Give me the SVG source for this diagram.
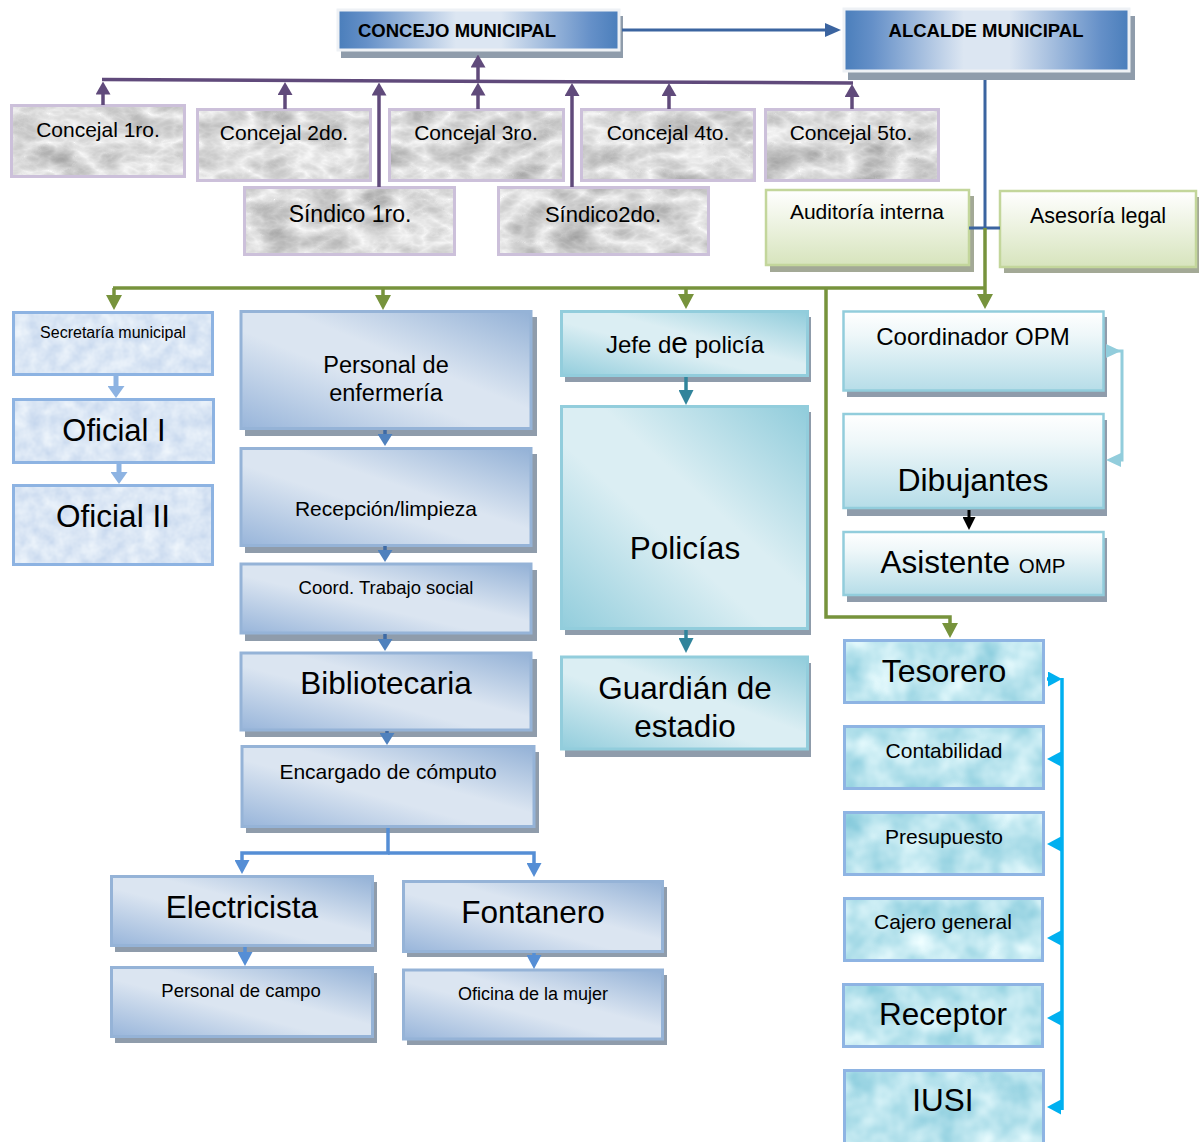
<svg xmlns="http://www.w3.org/2000/svg" width="1199" height="1142" viewBox="0 0 1199 1142">
<defs>
<style>
.t{font-family:"Liberation Sans",Arial,Helvetica,sans-serif;fill:#000;text-anchor:middle}
.bold{font-weight:bold}
.sh{fill:#8f9cab}
.shg{fill:#a3a996}
.top{fill:url(#gTop);stroke:#eef1f5;stroke-width:3}
.blue{fill:url(#gBlue);stroke:#95b3d7;stroke-width:3}
.teal{fill:url(#gTeal);stroke:#92cddc;stroke-width:3}
.opm{fill:url(#gOpm);stroke:#92cddc;stroke-width:2.5}
.green{fill:url(#gGreen);stroke:#c3d69b;stroke-width:2.5}
.marble{fill:#fff;filter:url(#fMarble)}
.marbleB{fill:none;stroke:#ccc0da;stroke-width:3}
.speck{fill:#fff;filter:url(#fSpeck)}
.speckB{fill:none;stroke:#8db3e2;stroke-width:3}
.water{fill:#fff;filter:url(#fWater)}
.waterB{fill:none;stroke:#8eb4e3;stroke-width:3}
.cPur{fill:none;stroke:#604a7b;stroke-width:3.5;marker-end:url(#mPur)}
.cPurL{fill:none;stroke:#604a7b;stroke-width:3.5}
.cDb{fill:none;stroke:#3b64a0;stroke-width:3}
.cGr{fill:none;stroke:#77933c;stroke-width:3.5}
.cGrA{fill:none;stroke:#77933c;stroke-width:3.5;marker-end:url(#mGr)}
.cMb{fill:none;stroke:#3d6aa5;stroke-width:3.5;marker-end:url(#mMb)}
.cEn{fill:none;stroke:#558ed5;stroke-width:3.5;marker-end:url(#mEn)}
.cLb{fill:none;stroke:#8db3e2;stroke-width:5;marker-end:url(#mLb)}
.cTe{fill:none;stroke:#31849b;stroke-width:3.5;marker-end:url(#mTe)}
.cBk{fill:none;stroke:#000;stroke-width:3;marker-end:url(#mBk)}
.cBr{fill:none;stroke:#92cddc;stroke-width:3;marker-start:url(#mBr);marker-end:url(#mBr)}
.cCy{fill:none;stroke:#00b0f0;stroke-width:3.5}
.cCyA{fill:none;stroke:#00b0f0;stroke-width:3.5;marker-end:url(#mCy)}
</style>
<linearGradient id="gTop" x1="0" y1="0" x2="1" y2="0">
<stop offset="0" stop-color="#4a7ebb"/><stop offset="0.1" stop-color="#6590c8"/><stop offset="0.42" stop-color="#dce6f2"/><stop offset="0.58" stop-color="#dce6f2"/><stop offset="0.9" stop-color="#6590c8"/><stop offset="1" stop-color="#4a7ebb"/>
</linearGradient>
<linearGradient id="gBlue" x1="1" y1="0" x2="0" y2="1">
<stop offset="0" stop-color="#93b1d6"/><stop offset="0.42" stop-color="#dbe5f1"/><stop offset="0.58" stop-color="#dbe5f1"/><stop offset="1" stop-color="#98b5da"/>
</linearGradient>
<linearGradient id="gTeal" x1="1" y1="0" x2="0" y2="1">
<stop offset="0" stop-color="#90ccdb"/><stop offset="0.42" stop-color="#dbeef3"/><stop offset="0.58" stop-color="#dbeef3"/><stop offset="1" stop-color="#92cddc"/>
</linearGradient>
<linearGradient id="gOpm" x1="0" y1="0" x2="0" y2="1">
<stop offset="0" stop-color="#ffffff"/><stop offset="0.3" stop-color="#eef7f9"/><stop offset="1" stop-color="#b6dde8"/>
</linearGradient>
<linearGradient id="gGreen" x1="0" y1="0" x2="0" y2="1">
<stop offset="0" stop-color="#ffffff"/><stop offset="1" stop-color="#d7e4bd"/>
</linearGradient>
<filter id="fMarble" color-interpolation-filters="sRGB">
<feTurbulence type="turbulence" baseFrequency="0.02 0.035" numOctaves="4" seed="7" result="n"/>
<feColorMatrix in="n" type="matrix" values="-0.42 0 0 0 0.98  -0.42 0 0 0 0.98  -0.42 0 0 0 0.98  0 0 0 0 1" result="g"/>
<feComposite in="g" in2="SourceGraphic" operator="in"/>
</filter>
<filter id="fSpeck" color-interpolation-filters="sRGB">
<feTurbulence type="fractalNoise" baseFrequency="0.07" numOctaves="3" seed="4" result="n"/>
<feColorMatrix in="n" type="matrix" values="0.2 0 0 0 0.76  0.15 0 0 0 0.83  0.07 0 0 0 0.925  0 0 0 0 1" result="g"/>
<feComposite in="g" in2="SourceGraphic" operator="in"/>
</filter>
<filter id="fWater" color-interpolation-filters="sRGB">
<feTurbulence type="fractalNoise" baseFrequency="0.03" numOctaves="3" seed="11" result="n"/>
<feColorMatrix in="n" type="matrix" values="0.5 0 0 0 0.48  0.25 0 0 0 0.77  0.175 0 0 0 0.845  0 0 0 0 1" result="g"/>
<feComposite in="g" in2="SourceGraphic" operator="in"/>
</filter>
<marker id="mPur" viewBox="0 0 10 10" refX="5" refY="5" markerWidth="13" markerHeight="15" markerUnits="userSpaceOnUse" orient="auto" preserveAspectRatio="none"><path d="M0,0 L10,5 L0,10 z" fill="#604a7b"/></marker>
<marker id="mDb" viewBox="0 0 10 10" refX="5" refY="5" markerWidth="16" markerHeight="14" markerUnits="userSpaceOnUse" orient="auto" preserveAspectRatio="none"><path d="M0,0 L10,5 L0,10 z" fill="#3b64a0"/></marker>
<marker id="mGr" viewBox="0 0 10 10" refX="5" refY="5" markerWidth="15" markerHeight="16" markerUnits="userSpaceOnUse" orient="auto" preserveAspectRatio="none"><path d="M0,0 L10,5 L0,10 z" fill="#77933c"/></marker>
<marker id="mMb" viewBox="0 0 10 10" refX="5" refY="5" markerWidth="12" markerHeight="15" markerUnits="userSpaceOnUse" orient="auto" preserveAspectRatio="none"><path d="M0,0 L10,5 L0,10 z" fill="#4f81bd"/></marker>
<marker id="mEn" viewBox="0 0 10 10" refX="5" refY="5" markerWidth="14" markerHeight="15" markerUnits="userSpaceOnUse" orient="auto" preserveAspectRatio="none"><path d="M0,0 L10,5 L0,10 z" fill="#558ed5"/></marker>
<marker id="mLb" viewBox="0 0 10 10" refX="5" refY="5" markerWidth="12" markerHeight="17" markerUnits="userSpaceOnUse" orient="auto" preserveAspectRatio="none"><path d="M0,0 L10,5 L0,10 z" fill="#8db3e2"/></marker>
<marker id="mTe" viewBox="0 0 10 10" refX="5" refY="5" markerWidth="15" markerHeight="15" markerUnits="userSpaceOnUse" orient="auto" preserveAspectRatio="none"><path d="M0,0 L10,5 L0,10 z" fill="#31849b"/></marker>
<marker id="mBk" viewBox="0 0 10 10" refX="5" refY="5" markerWidth="13" markerHeight="13" markerUnits="userSpaceOnUse" orient="auto" preserveAspectRatio="none"><path d="M0,0 L10,5 L0,10 z" fill="#000"/></marker>
<marker id="mBr" viewBox="0 0 10 10" refX="5" refY="5" markerWidth="15" markerHeight="14" markerUnits="userSpaceOnUse" orient="auto" preserveAspectRatio="none"><path d="M0,0 L10,5 L0,10 z" fill="#92cddc"/></marker>
<marker id="mCy" viewBox="0 0 10 10" refX="5" refY="5" markerWidth="14" markerHeight="15" markerUnits="userSpaceOnUse" orient="auto" preserveAspectRatio="none"><path d="M0,0 L10,5 L0,10 z" fill="#00b0f0"/></marker>
</defs>

<rect width="1199" height="1142" fill="#fff"/>

<!-- top -->
<g id="concejo">
<rect class="sh" x="341" y="16" width="282" height="42"/>
<rect class="top" x="338" y="10" width="281" height="40"/>
<text class="t bold" x="358" y="37" font-size="18.5" style="text-anchor:start">CONCEJO MUNICIPAL</text>
</g>
<g id="alcalde">
<rect class="sh" x="848" y="16" width="287" height="64"/>
<rect class="top" x="844" y="9" width="285" height="62"/>
<text class="t bold" x="986" y="37" font-size="18.5">ALCALDE MUNICIPAL</text>
</g>

<g id="concejal1"><rect class="marble" x="11.5" y="105.5" width="173" height="71"/><rect class="marbleB" x="11.5" y="105.5" width="173" height="71"/><text class="t" x="98" y="137" font-size="21">Concejal 1ro.</text></g>
<g id="concejal2"><rect class="marble" x="197.5" y="109.5" width="173" height="71"/><rect class="marbleB" x="197.5" y="109.5" width="173" height="71"/><text class="t" x="284" y="140" font-size="21">Concejal 2do.</text></g>
<g id="concejal3"><rect class="marble" x="389.5" y="109.5" width="174" height="71"/><rect class="marbleB" x="389.5" y="109.5" width="174" height="71"/><text class="t" x="476" y="140" font-size="21">Concejal 3ro.</text></g>
<g id="concejal4"><rect class="marble" x="581.5" y="109.5" width="173" height="71"/><rect class="marbleB" x="581.5" y="109.5" width="173" height="71"/><text class="t" x="668" y="140" font-size="21">Concejal 4to.</text></g>
<g id="concejal5"><rect class="marble" x="765.5" y="109.5" width="173" height="71"/><rect class="marbleB" x="765.5" y="109.5" width="173" height="71"/><text class="t" x="851" y="140" font-size="21">Concejal 5to.</text></g>
<g id="sindico1"><rect class="marble" x="244.5" y="187.5" width="210" height="67"/><rect class="marbleB" x="244.5" y="187.5" width="210" height="67"/><text class="t" x="350" y="222" font-size="23">Síndico 1ro.</text></g>
<g id="sindico2"><rect class="marble" x="498.5" y="187.5" width="210" height="67"/><rect class="marbleB" x="498.5" y="187.5" width="210" height="67"/><text class="t" x="603" y="222" font-size="22">Síndico2do.</text></g>

<g id="auditoria"><rect class="shg" x="770" y="196" width="204" height="76"/><rect class="green" x="766" y="190" width="203" height="75"/><text class="t" x="867" y="219" font-size="21">Auditoría interna</text></g>
<g id="asesoria"><rect class="shg" x="1004" y="197" width="195" height="76"/><rect class="green" x="1000" y="191" width="196" height="76"/><text class="t" x="1098" y="223" font-size="21.5">Asesoría legal</text></g>

<!-- left column -->
<g id="secretaria"><rect class="speck" x="13.5" y="312.5" width="199" height="62"/><rect class="speckB" x="13.5" y="312.5" width="199" height="62"/><text class="t" x="113" y="338" font-size="16">Secretaría municipal</text></g>
<g id="oficial1"><rect class="speck" x="13.5" y="399.5" width="200" height="63"/><rect class="speckB" x="13.5" y="399.5" width="200" height="63"/><text class="t" x="114" y="441" font-size="31">Oficial I</text></g>
<g id="oficial2"><rect class="speck" x="13.5" y="485.5" width="199" height="79"/><rect class="speckB" x="13.5" y="485.5" width="199" height="79"/><text class="t" x="113" y="527" font-size="31.5">Oficial II</text></g>

<!-- middle column -->
<g id="enfermeria"><rect class="sh" x="245" y="317" width="292" height="119"/><rect class="blue" x="241" y="311.5" width="290" height="117"/><text class="t" x="386" y="373" font-size="23.5">Personal de</text><text class="t" x="386" y="401" font-size="23.5">enfermería</text></g>
<g id="recepcion"><rect class="sh" x="245" y="454" width="292" height="99"/><rect class="blue" x="241" y="448.5" width="290" height="97"/><text class="t" x="386" y="516" font-size="21">Recepción/limpieza</text></g>
<g id="trabajosocial"><rect class="sh" x="245" y="570" width="292" height="71"/><rect class="blue" x="241" y="564" width="290" height="69"/><text class="t" x="386" y="594" font-size="18.5">Coord. Trabajo social</text></g>
<g id="bibliotecaria"><rect class="sh" x="245" y="659" width="292" height="78"/><rect class="blue" x="241" y="653" width="290" height="77"/><text class="t" x="386" y="694" font-size="31.5">Bibliotecaria</text></g>
<g id="computo"><rect class="sh" x="246" y="752" width="293" height="81"/><rect class="blue" x="242" y="746.5" width="292" height="80"/><text class="t" x="388" y="779" font-size="21">Encargado de cómputo</text></g>
<g id="electricista"><rect class="sh" x="115" y="882" width="262" height="70"/><rect class="blue" x="111.5" y="876.5" width="261" height="69"/><text class="t" x="242" y="918" font-size="31.5">Electricista</text></g>
<g id="campo"><rect class="sh" x="115" y="973" width="262" height="70"/><rect class="blue" x="111.5" y="967.5" width="261" height="69"/><text class="t" x="241" y="997" font-size="18.5">Personal de campo</text></g>
<g id="fontanero"><rect class="sh" x="407" y="887" width="260" height="70"/><rect class="blue" x="403.5" y="881.5" width="259" height="70"/><text class="t" x="533" y="923" font-size="31.5">Fontanero</text></g>
<g id="mujer"><rect class="sh" x="407" y="975" width="260" height="70"/><rect class="blue" x="403.5" y="970" width="259" height="69"/><text class="t" x="533" y="1000" font-size="18">Oficina de la mujer</text></g>

<!-- police column -->
<g id="jefepolicia"><rect class="sh" x="565" y="317" width="246" height="65"/><rect class="teal" x="561.5" y="311.5" width="246" height="64"/><text class="t" x="685" y="353" font-size="24">Jefe d<tspan font-size="30">e</tspan> policía</text></g>
<g id="policias"><rect class="sh" x="565" y="412" width="246" height="223"/><rect class="teal" x="561.5" y="406.5" width="246" height="222"/><text class="t" x="685" y="559" font-size="31.5">Policías</text></g>
<g id="guardian"><rect class="sh" x="565" y="663" width="246" height="94"/><rect class="teal" x="561.5" y="657" width="246" height="92"/><text class="t" x="685" y="699" font-size="31.5">Guardián de</text><text class="t" x="685" y="737" font-size="31.5">estadio</text></g>

<!-- OPM column -->
<g id="coordinador"><rect class="sh" x="847" y="317" width="260" height="80"/><rect class="opm" x="843.5" y="311.5" width="260" height="79"/><text class="t" x="973" y="345" font-size="24">Coordinador OPM</text></g>
<g id="dibujantes"><rect class="sh" x="847" y="420" width="260" height="96"/><rect class="opm" x="843.5" y="414" width="260" height="94"/><text class="t" x="973" y="491" font-size="32">Dibujantes</text></g>
<g id="asistente"><rect class="sh" x="847" y="538" width="260" height="64"/><rect class="opm" x="843.5" y="532" width="260" height="63"/><text class="t" x="973" y="573" font-size="31.5">Asistente <tspan font-size="20.5">OMP</tspan></text></g>

<!-- treasury column -->
<g id="tesorero"><rect class="water" x="844.5" y="640.5" width="199" height="62"/><rect class="waterB" x="844.5" y="640.5" width="199" height="62"/><text class="t" x="944" y="682" font-size="32">Tesorero</text></g>
<g id="contabilidad"><rect class="water" x="844.5" y="726.5" width="199" height="62"/><rect class="waterB" x="844.5" y="726.5" width="199" height="62"/><text class="t" x="944" y="758" font-size="21">Contabilidad</text></g>
<g id="presupuesto"><rect class="water" x="844.5" y="812.5" width="199" height="62"/><rect class="waterB" x="844.5" y="812.5" width="199" height="62"/><text class="t" x="944" y="844" font-size="21">Presupuesto</text></g>
<g id="cajero"><rect class="water" x="844.5" y="898.5" width="198" height="62"/><rect class="waterB" x="844.5" y="898.5" width="198" height="62"/><text class="t" x="943" y="929" font-size="21">Cajero general</text></g>
<g id="receptor"><rect class="water" x="843.5" y="984.5" width="199" height="62"/><rect class="waterB" x="843.5" y="984.5" width="199" height="62"/><text class="t" x="943" y="1025" font-size="31.5">Receptor</text></g>
<g id="iusi"><rect class="water" x="844.5" y="1070.5" width="199" height="75"/><rect class="waterB" x="844.5" y="1070.5" width="199" height="75"/><text class="t" x="943" y="1111" font-size="31.5">IUSI</text></g>

<!-- connectors -->
<g id="connectors">
<path class="cPurL" d="M102,79.5 L853,83"/>
<path class="cPur" d="M478,81 V61"/>
<path class="cPur" d="M103,105 V88"/>
<path class="cPur" d="M285,109 V88.5"/>
<path class="cPur" d="M478,109 V89"/>
<path class="cPur" d="M669,109 V89.5"/>
<path class="cPur" d="M852,109 V90.5"/>
<path class="cPur" d="M379,187 V89"/>
<path class="cPur" d="M572,187 V89.5"/>
<path class="cDb" d="M622,30 H833" style="marker-end:url(#mDb)"/>
<path class="cDb" d="M985,80 V228 M969,228 H1000"/>
<path class="cGr" d="M113,288 H986"/>
<path class="cGrA" d="M114,288 V302.5"/>
<path class="cGrA" d="M383,288 V302.5"/>
<path class="cGrA" d="M686,288 V301.5"/>
<path class="cGrA" d="M985,228 V301.5"/>
<path class="cGrA" d="M826,288 V617 H950 V630.5"/>
<path class="cLb" d="M116,376 V392"/>
<path class="cLb" d="M119,464 V478"/>
<path class="cMb" d="M385,430 V440"/>
<path class="cMb" d="M385,546 V556"/>
<path class="cMb" d="M385,634 V645"/>
<path class="cMb" d="M387,731 V739"/>
<path class="cEn" d="M388,828 V853 H242 V867"/>
<path class="cEn" d="M388,853 H534 V870"/>
<path class="cEn" d="M245,947 V959"/>
<path class="cEn" d="M534,953 V962"/>
<path class="cTe" d="M686,377 V397.5"/>
<path class="cTe" d="M686,630 V645.5"/>
<path class="cBk" d="M969,510 V523.5"/>
<path class="cBr" d="M1113.5,351 H1122 V460 H1113.5"/>
<path class="cCy" d="M1062,678 V1110"/>
<path class="cCyA" d="M1047,679 H1055"/>
<path class="cCyA" d="M1062,759 H1054"/>
<path class="cCyA" d="M1062,844 H1054"/>
<path class="cCyA" d="M1062,938 H1054"/>
<path class="cCyA" d="M1062,1018 H1054"/>
<path class="cCyA" d="M1062,1107 H1054"/>
</g>
</svg>
